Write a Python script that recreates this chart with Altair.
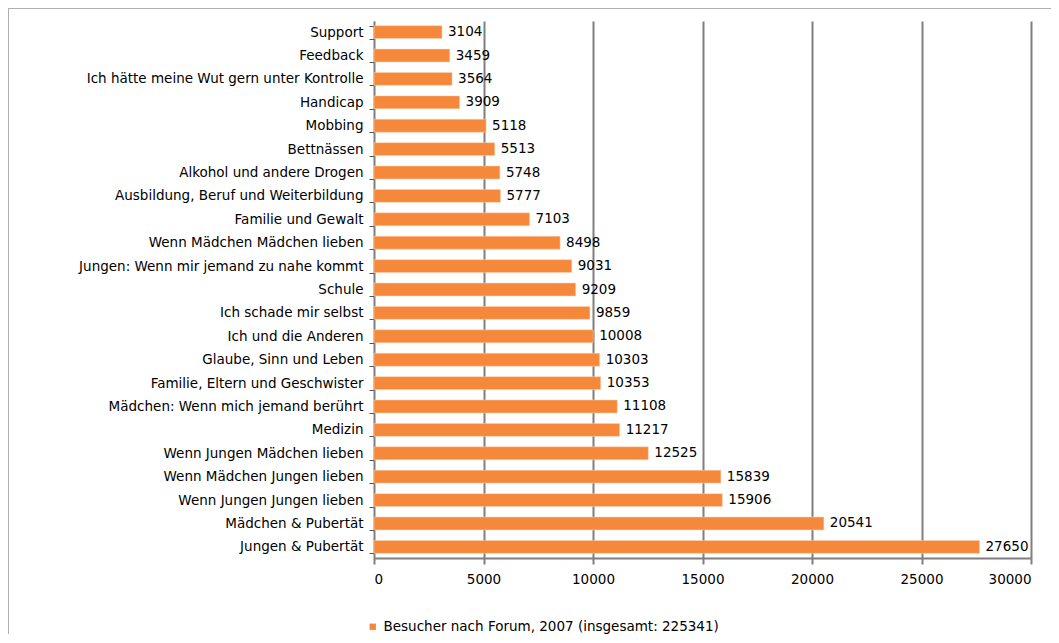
import altair as alt
import pandas as pd

categories = [
    "Support", "Feedback", "Ich hätte meine Wut gern unter Kontrolle", "Handicap",
    "Mobbing", "Bettnässen", "Alkohol und andere Drogen",
    "Ausbildung, Beruf und Weiterbildung", "Familie und Gewalt",
    "Wenn Mädchen Mädchen lieben", "Jungen: Wenn mir jemand zu nahe kommt",
    "Schule", "Ich schade mir selbst", "Ich und die Anderen",
    "Glaube, Sinn und Leben", "Familie, Eltern und Geschwister",
    "Mädchen: Wenn mich jemand berührt", "Medizin", "Wenn Jungen Mädchen lieben",
    "Wenn Mädchen Jungen lieben", "Wenn Jungen Jungen lieben",
    "Mädchen & Pubertät", "Jungen & Pubertät",
]
values = [3104, 3459, 3564, 3909, 5118, 5513, 5748, 5777, 7103, 8498, 9031,
          9209, 9859, 10008, 10303, 10353, 11108, 11217, 12525, 15839, 15906,
          20541, 27650]
series_name = "Besucher nach Forum, 2007 (insgesamt: 225341)"
x_ticks = [0, 5000, 10000, 15000, 20000, 25000, 30000]

df = pd.DataFrame({"cat": categories, "val": values, "series": series_name})

FONT = "DejaVu Sans"
FS = 13.5
ORANGE = "#F5883A"

y_enc = alt.Y("cat:N", sort=categories, title=None,
              scale=alt.Scale(paddingInner=0.45, paddingOuter=0.2),
              axis=alt.Axis(labelFont=FONT, labelFontSize=FS, labelColor="#000",
                            labelLimit=400,
                            domainColor="#7f7f7f", domainWidth=1,
                            tickColor="#555", tickSize=5, tickBand="extent",
                            labelPadding=6, grid=False))
x_enc = alt.X("val:Q", title=None,
              scale=alt.Scale(domain=[0, 30000], nice=False),
              axis=alt.Axis(values=x_ticks, format="d", labelFont=FONT,
                            labelFontSize=FS, labelColor="#000",
                            grid=True, gridColor="#7f7f7f", gridWidth=2,
                            domainColor="#7f7f7f", domainWidth=2,
                            tickColor="#7f7f7f", tickSize=6, tickWidth=2,
                            labelPadding=8))

frame = alt.Chart(df).mark_rect(fill=None, stroke="#b0b0b0", strokeWidth=1, clip=False).encode(
    x=alt.value(-366), x2=alt.value(720), y=alt.value(-13), y2=alt.value(700)
)

bars = alt.Chart(df).mark_bar(stroke="#fbd2b0", strokeWidth=0.5).encode(
    y=y_enc,
    x=x_enc,
    color=alt.Color("series:N", scale=alt.Scale(range=[ORANGE]), title=None,
                    legend=alt.Legend(orient="none", legendX=-8, legendY=599,
                                      symbolType="square", symbolSize=40,
                                      labelFont=FONT, labelFontSize=FS,
                                      labelLimit=500,
                                      labelColor="#000", symbolStrokeWidth=0)),
)

labels = alt.Chart(df).mark_text(align="left", baseline="middle", dx=6,
                                 font=FONT, fontSize=FS, color="#000").encode(
    y=alt.Y("cat:N", sort=categories),
    x="val:Q",
    text=alt.Text("val:Q", format="d"),
)

chart = alt.layer(frame, bars, labels).properties(
    width=657, height=537,
    autosize=alt.AutoSizeParams(type="none"),
    padding={"left": 366, "top": 13, "right": 20, "bottom": 76},
    background="white",
).configure_view(stroke=None)

chart.save("out.html", embed_options={"renderer": "svg", "actions": False})
